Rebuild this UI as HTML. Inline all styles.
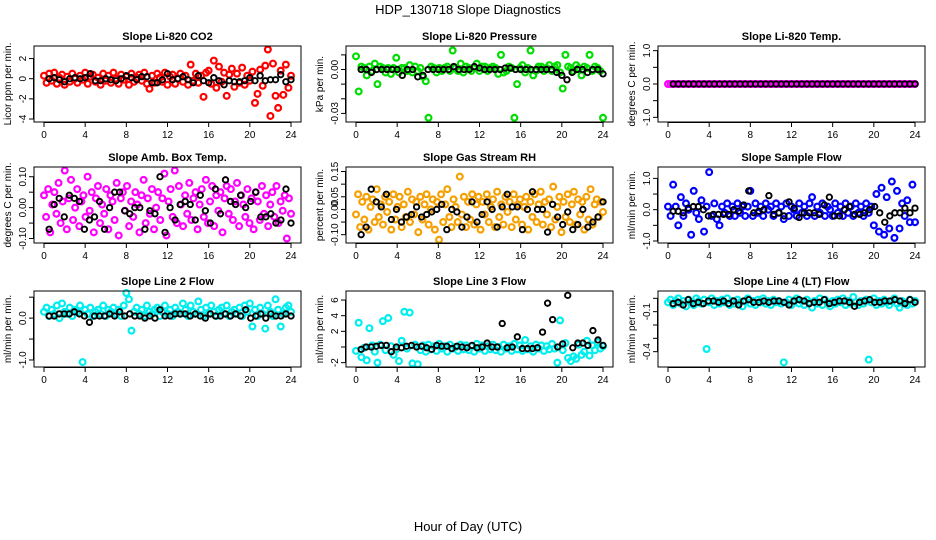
<!DOCTYPE html>
<html><head><meta charset="utf-8"><style>
body{margin:0;background:#fff}
svg{display:block;font-family:"Liberation Sans",sans-serif}
</style></head><body>
<svg id="chart" width="936" height="540" viewBox="0 0 936 540">
<text x="468" y="14" text-anchor="middle" font-size="13">HDP_130718  Slope Diagnostics</text>
<text x="468" y="531" text-anchor="middle" font-size="13">Hour of Day (UTC)</text>
</svg>
<script>
// ---- data (values per panel; hours spaced evenly over 0-24) ----
const hourTicks = [0,4,8,12,16,20,24];
const co2Vals = [0.3,-0.4,0.5,-0.2,0.6,-0.5,0.1,0.4,-0.6,0.2,-0.3,0.5,0.0,-0.4,0.3,-0.1,0.6,-0.5,0.2,0.4,-0.3,0.1,-0.6,0.5,-0.2,0.3,-0.4,0.6,0.0,-0.5,0.4,-0.1,0.2,-0.6,0.5,-0.3,0.1,0.4,-0.2,0.6,-0.5,-1.0,0.3,-0.4,0.5,0.1,-0.3,0.6,-0.6,0.2,0.4,-0.5,0.0,0.5,-0.3,0.3,-0.6,1.4,-0.2,0.5,-0.4,0.3,-1.8,0.6,0.8,-0.5,1.8,-0.9,1.2,-0.3,0.6,-1.7,0.4,1.0,-0.8,0.5,-0.4,1.1,-0.6,0.3,-0.2,0.7,-2.4,-1.5,0.9,-0.7,1.3,2.9,-3.7,1.5,-1.7,-2.9,0.8,-1.6,1.4,-0.9,0.3];
const co2Ref = [0.0,0.1,-0.1,-0.3,0.0,0.1,0.0,0.1,0.5,-0.2,-0.2,0.0,-0.1,-0.2,0.0,0.3,0.1,-0.1,0.2,0.2,-0.4,-0.4,-0.1,0.5,-0.1,0.0,0.2,-0.1,-0.4,0.3,-0.2,-0.4,0.1,-0.2,-0.6,-0.2,-0.3,-0.3,-0.2,0.1,-0.2,0.3,-0.2,-0.1,-0.1,0.4,-0.3,-0.1];
const pressVals = [0.009,-0.015,0.002,0.001,-0.004,0.002,-0.001,0.004,-0.010,0.002,0.001,-0.002,0.001,-0.003,0.001,0.008,-0.002,0.001,0.001,-0.001,0.003,-0.002,0.002,-0.001,0.001,-0.005,-0.008,-0.033,0.002,0.001,-0.002,0.001,-0.001,0.001,0.002,-0.001,0.013,0.001,-0.001,0.004,-0.002,0.002,0.001,-0.001,0.001,0.004,-0.001,0.002,0.002,-0.001,0.001,0.002,0.001,-0.003,0.010,-0.002,-0.001,0.002,0.001,-0.033,-0.010,0.001,0.003,-0.002,0.001,0.013,-0.004,-0.001,0.002,0.002,-0.001,0.001,0.003,-0.001,0.002,0.003,-0.002,-0.013,0.010,0.002,0.001,-0.001,0.003,0.001,-0.004,0.002,0.001,0.010,-0.001,0.002,0.001,-0.001,-0.033];
const pressRef = [0,0,-0.002,0,0,0,0,0,-0.004,0,0,-0.005,-0.004,0,0,0,0,0,0.002,0,0,0,0.002,0.001,0,0,0,0,0.001,0.001,0,0,0,0,0,0,0,0,-0.002,-0.004,-0.007,-0.002,0,0,-0.002,0,0,-0.003];
const tempVals = [0,0,0,0,0,0,0,0,0,0,0,0,0,0,0,0,0,0,0,0,0,0,0,0,0,0,0,0,0,0,0,0,0,0,0,0,0,0,0,0,0,0,0,0,0,0,0,0,0,0,0,0,0,0,0,0,0,0,0,0,0,0,0,0,0,0,0,0,0,0,0,0,0,0,0,0,0,0,0,0,0,0,0,0,0,0,0,0,0,0,0,0,0,0,0,0,0];
const tempRef = [0,0,0,0,0,0,0,0,0,0,0,0,0,0,0,0,0,0,0,0,0,0,0,0,0,0,0,0,0,0,0,0,0,0,0,0,0,0,0,0,0,0,0,0,0,0,0,0];
const ambVals = [0.04,-0.03,0.06,-0.08,0.01,0.05,-0.02,0.08,-0.05,0.02,0.12,-0.07,0.03,0.09,-0.04,0.00,0.06,-0.06,0.02,0.04,-0.03,0.10,-0.01,0.05,-0.08,0.03,0.07,-0.05,0.01,-0.02,0.06,-0.07,0.04,0.02,-0.04,0.08,-0.09,0.03,0.05,-0.01,0.07,-0.06,0.02,-0.03,0.05,0.01,-0.08,0.04,0.09,-0.05,0.03,-0.02,0.06,-0.07,0.00,0.05,-0.04,0.03,0.11,-0.09,0.02,0.06,-0.03,0.12,-0.05,0.07,0.01,-0.06,0.04,-0.02,0.08,-0.04,0.03,0.05,-0.07,0.01,0.06,-0.03,0.09,-0.05,0.02,0.07,-0.06,0.04,-0.01,0.05,-0.08,0.03,0.07,-0.02,0.06,-0.04,0.02,0.08,-0.06,0.04,0.01,-0.03,0.06,-0.05,0.03,-0.07,0.05,0.02,-0.04,0.07,-0.02,0.04,-0.06,0.01,0.05,-0.03,0.07,-0.05,0.02,-0.01,0.04,-0.10,0.03,-0.02];
const ambRef = [-0.07,0.01,0.03,-0.03,0.04,0.03,0.02,-0.07,-0.04,-0.03,0.02,-0.07,0.00,0.05,0.05,-0.01,-0.02,0.00,0.00,-0.07,-0.01,-0.02,0.10,-0.08,0.00,-0.04,0.01,0.02,0.01,-0.04,0.04,-0.01,-0.05,0.06,-0.02,0.09,0.02,0.01,0.04,0.00,0.02,0.05,-0.03,-0.03,-0.02,-0.05,-0.04,0.06,-0.05];
const rhVals = [-0.02,0.06,-0.07,0.03,-0.04,0.05,-0.08,0.01,0.04,-0.05,0.08,-0.03,0.02,-0.06,0.05,-0.01,0.03,-0.08,0.06,-0.04,0.01,0.05,-0.07,0.02,-0.03,0.07,-0.05,0.04,-0.02,0.03,-0.09,0.05,-0.04,0.02,0.06,-0.06,0.00,0.04,-0.08,0.03,-0.12,0.06,-0.05,0.02,0.08,-0.03,-0.07,0.04,0.01,-0.05,0.13,-0.02,0.05,-0.07,0.03,-0.04,0.06,-0.06,0.02,0.05,-0.08,0.03,-0.02,0.06,-0.05,0.01,0.04,-0.07,0.07,-0.03,0.02,-0.06,0.05,-0.01,0.03,-0.07,0.06,-0.04,0.02,0.04,-0.06,0.01,0.05,-0.08,0.03,-0.03,0.06,-0.05,0.02,0.07,-0.06,0.03,-0.02,0.04,-0.07,0.09,-0.04,0.01,0.05,-0.09,0.03,-0.03,0.06,-0.05,0.02,0.07,-0.06,0.04,-0.02,0.03,-0.08,0.05,-0.04,0.08,-0.06,0.02,0.04,-0.03,0.03,-0.01];
const rhRef = [-0.10,-0.07,0.08,0.03,0.01,0.06,-0.04,0.00,-0.05,-0.03,-0.02,0.01,-0.03,-0.02,-0.01,0.00,0.02,-0.08,0.00,-0.01,-0.07,-0.03,0.03,-0.05,-0.02,0.03,0.00,-0.07,0.01,0.06,0.01,0.01,-0.08,0.00,0.07,0.00,0.00,-0.09,0.02,-0.03,-0.06,-0.01,-0.08,-0.06,0.00,-0.07,-0.05,-0.03,0.03];
const flowVals = [0.1,-0.2,0.8,0.1,-0.5,0.4,-0.2,0.2,0.0,-0.8,0.6,-0.1,-0.3,0.3,-0.7,0.1,1.2,-0.2,0.2,-0.3,-0.5,0.1,-0.1,0.2,-0.2,0.1,-0.2,0.2,-0.1,0.1,-0.2,0.1,0.6,-0.2,0.2,-0.1,0.1,-0.2,0.2,0.0,0.1,-0.2,0.2,-0.1,0.1,-0.3,0.2,-0.2,0.1,0.0,-0.2,0.2,-0.1,0.1,-0.2,0.2,0.4,-0.2,0.1,-0.1,0.2,-0.2,0.1,0.0,-0.2,0.2,-0.1,0.1,-0.2,0.2,-0.1,0.1,-0.2,0.2,-0.1,0.1,-0.2,0.2,-0.1,0.1,-0.5,0.5,-0.7,0.7,-0.8,0.4,-0.6,0.9,-0.9,0.6,-0.6,0.2,-0.2,0.3,-0.4,0.8,-0.4];
const flowRef = [-0.05,-0.05,-0.1,0.05,0.1,0.1,0.0,-0.2,-0.15,-0.15,-0.15,-0.15,0.0,-0.05,0.15,0.6,-0.1,-0.05,0.0,0.45,-0.15,-0.1,-0.2,0.25,0.05,-0.25,-0.1,-0.1,-0.1,-0.15,0.15,0.4,-0.2,-0.2,0.0,0.1,-0.15,-0.15,-0.1,0.0,0.1,-0.1,-0.4,-0.2,-0.1,-0.1,0.05,-0.1,0.05];
const line2Vals = [0.15,0.25,0.05,0.2,0.1,0.3,0.0,0.35,0.15,0.1,0.25,0.05,0.2,0.15,0.3,-1.05,0.2,0.1,0.25,0.05,0.15,0.2,0.1,0.3,0.05,0.2,0.15,0.25,0.1,0.2,0.05,0.3,0.6,0.45,-0.3,0.15,0.25,0.1,0.2,0.05,0.3,0.15,0.1,0.2,0.25,0.05,0.15,0.3,0.1,0.2,0.05,0.25,0.15,0.1,0.35,0.2,0.05,0.3,0.15,0.1,0.4,0.2,0.05,0.25,0.1,0.3,0.15,0.05,0.2,0.25,0.1,0.3,0.05,0.15,0.2,0.1,0.25,0.05,0.3,0.15,0.35,-0.2,0.2,0.05,0.25,0.1,-0.25,0.3,0.15,0.05,0.45,0.2,-0.2,0.1,0.25,0.3,0.15];
const line2Ref = [0.05,0.05,0.1,0.1,0.1,0.15,0.1,0.05,-0.1,0.05,0.05,0.05,0.1,0.05,0.15,0.05,0.1,0.05,0.05,0.0,0.05,0.0,0.2,0.05,0.05,0.1,0.1,0.1,0.05,0.1,0.05,0.0,0.1,0.05,0.05,0.1,0.05,0.1,0.05,0.2,0.0,0.05,0.1,0.0,0.1,0.05,0.05,0.1,0.05];
const line3Vals = [-0.5,3.1,-1.3,-0.1,-1.7,2.4,0.2,-0.6,-2.0,0.3,3.3,-0.4,3.7,0.1,-1.0,-0.3,-1.8,0.8,4.5,-0.2,4.4,-2.1,0.3,-2.2,-0.4,0.2,-0.6,0.3,-0.3,0.1,-0.5,0.4,-0.2,0.1,-0.6,0.3,-0.2,0.0,-0.5,0.3,-0.3,0.2,-0.4,0.1,-0.6,0.4,-0.2,0.2,-0.5,0.1,-0.3,0.3,-0.4,0.0,-0.6,0.3,-0.2,0.1,-0.5,0.4,-0.3,0.2,-0.5,0.9,-0.3,0.1,-0.6,0.3,-0.2,0.2,-0.5,0.1,-0.3,0.4,-0.2,-2.0,3.4,-0.4,0.5,-1.4,-1.8,-1.2,-1.5,0.3,-1.0,-0.6,0.8,-1.1,0.2,-0.4,0.6,-0.2,0.1];
const line3Ref = [-0.3,0.0,0.0,0.1,0.2,0.2,-0.6,0.0,-0.1,0.1,0.2,0.0,0.1,-0.1,-0.3,0.2,0.1,0.1,-0.2,0.1,0.0,-0.1,0.2,-0.1,0.0,0.5,0.0,0.0,3.0,-0.1,0.0,1.3,-0.2,-0.2,-0.2,-0.1,1.9,5.6,3.5,0.0,0.4,6.6,-0.1,0.5,0.5,0.2,2.1,0.9,0.2];
const line4Vals = [-0.03,-0.01,-0.05,-0.02,0.0,-0.04,-0.02,-0.06,-0.01,-0.03,-0.05,0.0,-0.02,-0.04,-0.01,-0.38,-0.03,0.0,-0.05,-0.02,-0.04,-0.01,-0.03,0.0,-0.05,-0.02,-0.04,-0.01,-0.03,-0.06,-0.02,0.0,-0.04,-0.02,-0.05,-0.01,-0.03,0.0,-0.04,-0.02,-0.05,-0.01,-0.03,-0.02,-0.04,-0.48,-0.03,-0.01,-0.05,-0.02,0.0,-0.04,-0.02,-0.05,-0.01,-0.03,-0.07,-0.02,-0.04,0.0,-0.05,-0.01,-0.03,-0.06,-0.02,-0.04,-0.01,-0.03,0.0,-0.05,-0.02,-0.04,0.01,-0.03,-0.05,-0.02,-0.04,-0.01,-0.46,-0.03,0.0,-0.05,-0.02,-0.04,-0.01,-0.03,-0.05,-0.02,0.0,-0.04,-0.07,-0.02,-0.03,-0.05,-0.01,-0.04,-0.02];
const line4Ref = [-0.04,-0.03,-0.05,-0.01,-0.04,-0.03,-0.04,-0.02,-0.02,-0.03,-0.02,-0.04,-0.02,-0.05,-0.02,-0.01,-0.03,-0.03,-0.02,-0.03,-0.02,-0.02,-0.03,-0.05,-0.02,-0.01,-0.02,-0.04,-0.03,-0.03,-0.01,-0.04,-0.03,-0.02,-0.02,-0.03,-0.06,-0.03,-0.02,-0.01,-0.03,-0.03,-0.02,-0.02,-0.01,-0.02,-0.04,-0.01,-0.03];

const svg = document.getElementById('chart');
const NS = 'http://www.w3.org/2000/svg';
function mk(tag, attrs, parent){const e=document.createElementNS(NS,tag);for(const k in attrs)e.setAttribute(k,attrs[k]);(parent||svg).appendChild(e);return e;}

const cols = [34, 346, 658];
const rows = [46, 167, 291];
const W = 267, H = 76;

function panel(key, col, row, title, ylab, ymin, ymax, ticks, tickLabels, vals, refVals, color){
  const l = cols[col], t = rows[row];
  const g = mk('g', {});
  
  
  const xs = h => l + 10 + (h / 24) * (W - 20);
  const ys = v => t + H - 2 - ((v - ymin) / (ymax - ymin)) * (H - 4);
  const tt = mk('text', {x: l + W/2, y: t - 6, 'text-anchor':'middle', 'font-size':11, 'font-weight':'bold'}, g);
  tt.textContent = title;
  
  
  const n = vals.length;
  vals.forEach((v,i) => {
    const c = mk('circle', {cx: xs(i*24/(n-1)), cy: ys(v), r: 2.9, fill:'none', stroke: color, 'stroke-width': 2.2}, g);
    
    
  });
  const m = refVals.length;
  refVals.forEach((v,i) => {
    const c = mk('circle', {cx: xs(0.5 + i*23.5/(m-1)), cy: ys(v), r: 2.7, fill:'none', stroke:'#000', 'stroke-width': 1.9}, g);
    
    
  });
  const box = mk('rect', {x:l, y:t, width:W, height:H, fill:'none', stroke:'#000', 'stroke-width':1}, g);
  
  
  const xa = mk('g', {}, g);
  
  
  mk('line', {x1: xs(0), x2: xs(24), y1: t+H+0.5, y2: t+H+0.5, stroke:'#000'}, xa);
  hourTicks.forEach(h => {
    mk('line', {x1: xs(h), x2: xs(h), y1: t+H, y2: t+H+5, stroke:'#000'}, xa);
    const lb = mk('text', {x: xs(h), y: t+H+16, 'text-anchor':'middle', 'font-size':10}, xa);
    lb.textContent = h;
  });
  const ya = mk('g', {}, g);
  
  
  mk('line', {x1: l-0.5, x2: l-0.5, y1: ys(ticks[0]), y2: ys(ticks[ticks.length-1]), stroke:'#000'}, ya);
  ticks.forEach((v,i) => {
    mk('line', {x1: l-5, x2: l, y1: ys(v), y2: ys(v), stroke:'#000'}, ya);
    if (tickLabels[i] !== '') {
      const lb = mk('text', {x: l-8, y: ys(v), 'text-anchor':'middle', 'font-size':10, transform:`rotate(-90 ${l-8} ${ys(v)})`}, ya);
      lb.textContent = tickLabels[i];
    }
  });
  const yl = mk('text', {x: l-23, y: t+H/2, 'text-anchor':'middle', 'font-size':10, transform:`rotate(-90 ${l-23} ${t+H/2})`}, g);
  yl.textContent = ylab;
  
  
}

panel('co2', 0, 0, 'Slope Li-820 CO2', 'Licor ppm per min.', -4.1, 3.05, [-4,-2,0,2], ['-4','-2','0','2'], co2Vals, co2Ref, '#ff0000');
panel('pressure', 1, 0, 'Slope Li-820 Pressure', 'kPa per min.', -0.0345, 0.0147, [-0.03,-0.02,-0.01,0,0.01], ['-0.03','','','0.00',''], pressVals, pressRef, '#00dd00');
panel('li820-temp', 2, 0, 'Slope Li-820 Temp.', 'degrees C per min.', -1.08, 1.08, [-1,-0.5,0,0.5,1], ['-1.0','','0.0','','1.0'], tempVals, tempRef, '#ff00ff');
panel('amb-box-temp', 0, 1, 'Slope Amb. Box Temp.', 'degrees C per min.', -0.108, 0.125, [-0.1,-0.05,0,0.05,0.1], ['-0.10','','0.00','','0.10'], ambVals, ambRef, '#ff00ff');
panel('gas-stream-rh', 1, 1, 'Slope Gas Stream RH', 'percent per min.', -0.125, 0.16, [-0.1,-0.05,0,0.05,0.1,0.15], ['-0.10','','0.00','0.05','','0.15'], rhVals, rhRef, '#f5a000');
panel('sample-flow', 2, 1, 'Slope Sample Flow', 'ml/min per min.', -1.0, 1.3, [-1,-0.5,0,0.5,1], ['-1.0','','0.0','','1.0'], flowVals, flowRef, '#0000ff');
panel('line2-flow', 0, 2, 'Slope Line 2 Flow', 'ml/min per min.', -1.12, 0.6, [-1,-0.5,0,0.5], ['-1.0','','0.0',''], line2Vals, line2Ref, '#00eeee');
panel('line3-flow', 1, 2, 'Slope Line 3 Flow', 'ml/min per min.', -2.3, 6.9, [-2,0,2,4,6], ['-2','','2','4','6'], line3Vals, line3Ref, '#00eeee');
panel('line4-flow', 2, 2, 'Slope Line 4 (LT) Flow', 'ml/min per min.', -0.5, 0.04, [-0.4,-0.3,-0.2,-0.1,0], ['-0.4','','','-0.1',''], line4Vals, line4Ref, '#00eeee');
</script>
</body></html>
